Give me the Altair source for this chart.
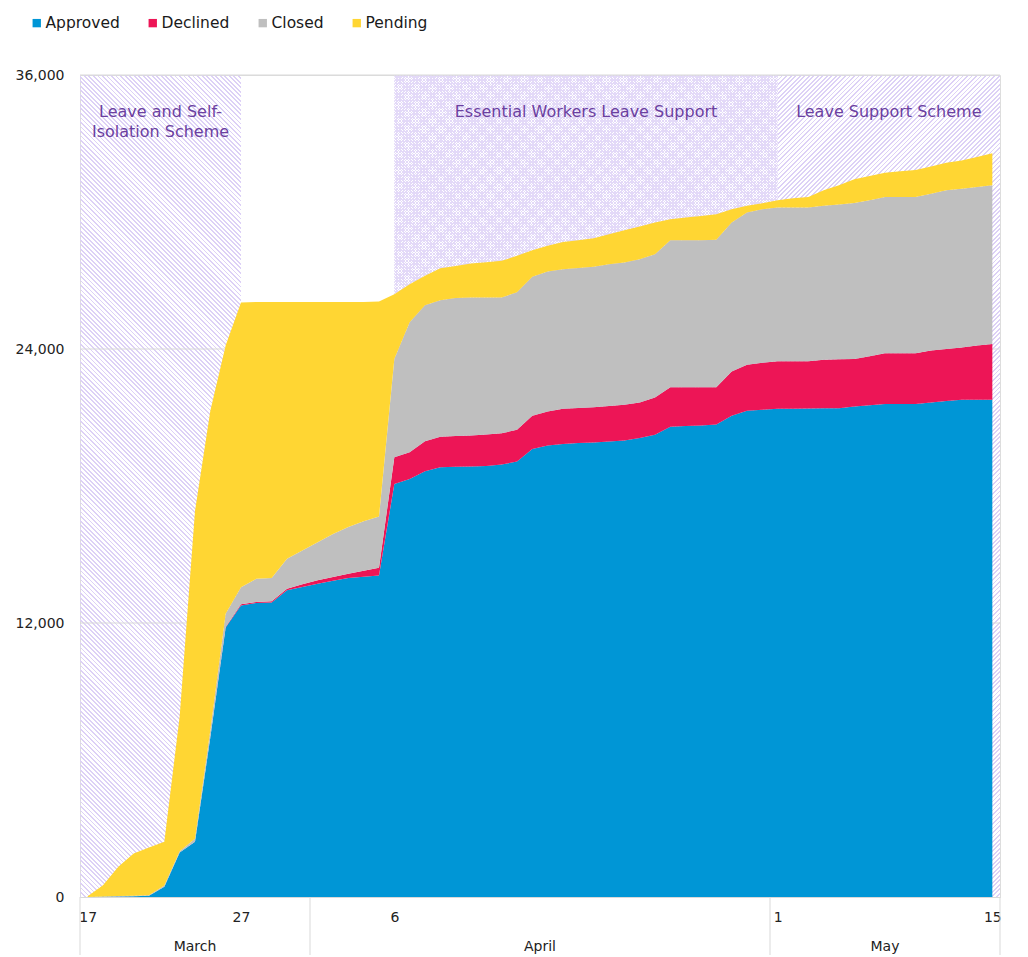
import math
import altair as alt
import pandas as pd

# ---------------- data ----------------
dates = pd.date_range("2020-03-17", "2020-05-15", freq="D")

approved = [0, 10, 20, 30, 60, 450, 1950, 2420, 7000, 11800,
            12770, 12880, 12900, 13430, 13580, 13720, 13850, 13970, 14030, 14080,
            18090, 18310, 18650, 18820, 18840, 18850, 18880, 18940, 19070, 19620,
            19770, 19840, 19880, 19910, 19950, 19990, 20100, 20250, 20600, 20630,
            20650, 20690, 21080, 21300, 21340, 21380, 21380, 21390, 21400, 21400,
            21480, 21540, 21590, 21590, 21590, 21660, 21720, 21780, 21780, 21780]
declined = [0, 0, 0, 0, 0, 0, 0, 0, 0, 30,
            50, 40, 50, 70, 120, 150, 170, 190, 260, 340,
            1170, 1170, 1310, 1340, 1350, 1360, 1380, 1370, 1390, 1460,
            1490, 1540, 1540, 1540, 1550, 1570, 1560, 1630, 1720, 1690,
            1670, 1630, 1930, 2010, 2060, 2080, 2080, 2070, 2130, 2150,
            2080, 2140, 2220, 2220, 2220, 2270, 2280, 2290, 2370, 2440]
closed = [0, 10, 20, 20, 20, 50, 50, 130, 300, 570,
          750, 1020, 1020, 1310, 1480, 1670, 1880, 2040, 2170, 2240,
          4300, 5690, 5960, 5980, 6040, 6050, 6000, 5950, 6020, 6080,
          6130, 6110, 6130, 6150, 6210, 6230, 6270, 6270, 6440, 6440,
          6440, 6460, 6530, 6670, 6720, 6740, 6740, 6740, 6740, 6780,
          6830, 6840, 6850, 6850, 6850, 6870, 6950, 6950, 6950, 6950]
pending = [30, 500, 1290, 1850, 2090, 1920, 5900, 14350, 14000, 11750,
           12470, 12120, 12090, 11250, 10880, 10520, 10160, 9860, 9600, 9420,
           2840, 1670, 1290, 1400, 1410, 1490, 1540, 1600, 1600, 1170,
           1130, 1200, 1210, 1250, 1320, 1410, 1430, 1390, 920, 1000,
           1070, 1120, 580, 290, 260, 310, 400, 460, 680, 840,
           1040, 1060, 1060, 1120, 1180, 1190, 1210, 1240, 1310, 1400]

series_names = ["Approved", "Declined", "Closed", "Pending"]
series_colors = ["#0096D6", "#ED1556", "#BFBFBF", "#FFD633"]

tick_dates = ["2020-03-17", "2020-03-27", "2020-04-06", "2020-05-01", "2020-05-15"]
month_names = ["March", "April", "May"]

scheme_names = ["Leave and Self-\nIsolation Scheme",
                "Essential Workers Leave Support",
                "Leave Support Scheme"]
scheme_start = ["2020-03-17", "2020-04-06", "2020-05-01"]
scheme_end = ["2020-03-27", "2020-05-01", "2020-05-15"]

y_ticks = [0, 12000, 24000, 36000]

# ---------------- layout ----------------
W, H = 920, 822
FONT = "DejaVu Sans"
n_days = len(dates)
x_lo, x_hi = -0.5, n_days - 0.5
xscale = alt.Scale(domain=[x_lo, x_hi], nice=False, zero=False)
yscale = alt.Scale(domain=[0, y_ticks[-1]], nice=False)
px_per_day = W / (x_hi - x_lo)


def day_of(s):
    return (pd.Timestamp(s) - dates[0]).days


rows = []
for k, (name, vals) in enumerate(zip(series_names, [approved, declined, closed, pending])):
    for d, v in zip(range(n_days), vals):
        rows.append({"day": d, "value": v, "series": name, "order": k})
df = pd.DataFrame(rows)

tick_days = [day_of(t) for t in tick_dates]
tick_labels = [str(pd.Timestamp(t).day) for t in tick_dates]
label_expr = "".join(f"datum.value == {d} ? '{l}' : " for d, l in zip(tick_days, tick_labels)) + "''"

xaxis = alt.Axis(values=tick_days, labelExpr=label_expr, ticks=False, grid=False,
                 domainColor="#d9d9d9", labelFontSize=14, labelPadding=13,
                 labelColor="#222222", labelFont=FONT, labelFlush=False, title=None)
yaxis = alt.Axis(values=y_ticks, format=",.0f", ticks=False, domain=False, grid=False,
                 labelPadding=16, labelFontSize=14, labelColor="#222222",
                 labelFont=FONT, title=None)

# scheme regions
sch = []
for i, (nm, s, e) in enumerate(zip(scheme_names, scheme_start, scheme_end)):
    a, b = day_of(s), day_of(e)
    a = x_lo if a == 0 else a
    b = x_hi if b == n_days - 1 else b
    sch.append({"i": i, "name": nm, "x0": a, "x1": b, "mid": (a + b) / 2,
                "lo": 0, "hi": y_ticks[-1]})
sdf = pd.DataFrame(sch)


def hatch(w, h, period, frac, color, up=True):
    lam = (w + h) / (w * w + h * h)
    total = (w + h) / math.sqrt(2)
    n = max(1, round(total / period))
    clear = "rgba(255,255,255,0)"
    stops = []
    for k in range(n):
        a = k / n
        b = (k + frac) / n
        c = (k + 1) / n
        stops += [alt.GradientStop(offset=a, color=color),
                  alt.GradientStop(offset=b, color=color),
                  alt.GradientStop(offset=b, color=clear),
                  alt.GradientStop(offset=c, color=clear)]
    if up:
        return alt.LinearGradient(gradient="linear", stops=stops,
                                  x1=0, y1=0, x2=lam * w, y2=lam * h)
    return alt.LinearGradient(gradient="linear", stops=stops,
                              x1=0, y1=1, x2=lam * w, y2=1 - lam * h)


def rect_layer(i, grad):
    return alt.Chart(sdf[sdf.i == i]).mark_rect(fill=grad, strokeWidth=0).encode(
        x=alt.X("x0:Q", scale=xscale, axis=xaxis),
        x2="x1:Q",
        y=alt.Y("lo:Q", scale=yscale, axis=yaxis),
        y2="hi:Q",
    )


widths = [(r["x1"] - r["x0"]) * px_per_day for r in sch]
LINE = "#ddd1f6"
LINE2 = "#e3d9f8"
h1 = rect_layer(0, hatch(widths[0], H, 3.2, 0.4, LINE, up=False))
h2a = rect_layer(1, hatch(widths[1], H, 2.0, 0.5, LINE2, up=True))
h2b = rect_layer(1, hatch(widths[1], H, 2.0, 0.5, LINE2, up=False))
h3 = rect_layer(2, hatch(widths[2], H, 3.2, 0.4, LINE, up=True))

labels = alt.Chart(sdf).mark_text(
    font=FONT, fontSize=16, color="#6b3fa0", align="center", baseline="top",
    lineBreak="\n", lineHeight=20
).encode(
    x=alt.X("mid:Q", scale=xscale, axis=xaxis),
    y=alt.value(29),
    text="name:N",
)

grid = alt.Chart(pd.DataFrame({"g": y_ticks[1:]})).mark_rule(
    color="#d9d9d9", strokeWidth=1
).encode(
    y=alt.Y("g:Q", scale=yscale, axis=yaxis),
    x=alt.value(0), x2=alt.value(W),
)

area = alt.Chart(df).mark_area(interpolate="linear").encode(
    x=alt.X("day:Q", scale=xscale, axis=xaxis),
    y=alt.Y("value:Q", stack="zero", scale=yscale, axis=yaxis),
    color=alt.Color("series:N", sort=series_names,
                    scale=alt.Scale(domain=series_names, range=series_colors),
                    legend=alt.Legend(orient="none", legendX=-51, legendY=-60,
                                      direction="horizontal", title=None,
                                      symbolType="square", symbolSize=70,
                                      symbolStrokeWidth=0, labelFontSize=15.5,
                                      labelFont=FONT, labelColor="#1a1a1a",
                                      columnPadding=25, labelOffset=1, padding=0)),
    order=alt.Order("order:Q", sort="ascending"),
)

# month row of the axis
month_rows = []
for m in month_names:
    ds = [d for d in range(n_days) if dates[d].strftime("%B") == m]
    month_rows.append({"month": m, "mid": (ds[0] + ds[-1]) / 2})
mdf = pd.DataFrame(month_rows)
bnd = [x_lo]
for m in month_names[1:]:
    first = min(d for d in range(n_days) if dates[d].strftime("%B") == m)
    bnd.append(first - 0.5)
bnd.append(x_hi)
bdf = pd.DataFrame({"b": bnd})

seps = alt.Chart(bdf).mark_rule(color="#d9d9d9", strokeWidth=1).encode(
    x=alt.X("b:Q", scale=xscale, axis=xaxis),
    y=alt.value(H), y2=alt.value(H + 60),
)
months = alt.Chart(mdf).mark_text(
    font=FONT, fontSize=14, color="#222222", baseline="middle", align="center"
).encode(
    x=alt.X("mid:Q", scale=xscale, axis=xaxis),
    y=alt.value(H + 50),
    text="month:N",
)

chart = alt.layer(h1, h2a, h2b, h3, labels, grid, area, seps, months).properties(
    width=W, height=H,
    padding={"left": 72, "top": 67, "right": 5, "bottom": 58},
    autosize=alt.AutoSizeParams(type="none"),
).configure_view(stroke=None).configure(font=FONT)

chart.save("out.html", embed_options={"renderer": "svg", "actions": False})
